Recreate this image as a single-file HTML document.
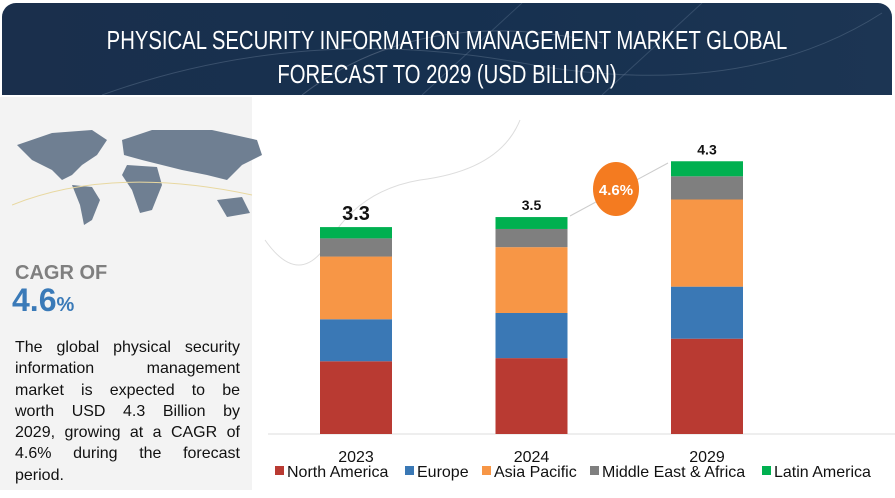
<!DOCTYPE html>
<html><head><meta charset="utf-8">
<style>
body{margin:0;width:895px;height:498px;background:#fff;font-family:"Liberation Sans",sans-serif;overflow:hidden;position:relative}
#hdr{position:absolute;left:2px;top:3px;width:890px;height:92px;border-radius:14px 14px 0 0;background:linear-gradient(90deg,#1a2f4c,#16304f 50%,#1c3553);overflow:hidden}
#hdr .t{position:absolute;left:0;right:0;top:20px;text-align:center;color:#fff;font-size:26px;line-height:34px;font-family:"Liberation Sans",sans-serif;transform:scaleX(0.78);transform-origin:center;white-space:nowrap}
#left{position:absolute;left:0;top:97px;width:252px;height:393px;background:#f3f3f3}
.cagr1{position:absolute;left:15px;top:262px;font-size:20px;font-weight:bold;color:#7f7f7f}
.cagr2{position:absolute;left:12px;top:282px;font-size:32px;font-weight:bold;color:#3a7ab8}
.cagr2 span{font-size:20px}
.desc{position:absolute;left:15px;top:337px;width:225px;font-size:16px;line-height:21.3px;color:#111}
.desc div{text-align:justify;text-align-last:justify;white-space:nowrap;display:flex;justify-content:space-between}
.desc div.last{justify-content:flex-start;gap:6px}
</style></head><body>
<div id="hdr">
<svg width="890" height="92" style="position:absolute;left:0;top:0">
<path d="M100 92 Q300 20 520 60 T880 10" stroke="#5a6f8a" stroke-width="1" fill="none" opacity=".5"/>
<path d="M300 92 Q420 0 600 40" stroke="#6f7f95" fill="none" opacity=".5"/>
<path d="M600 92 L700 0 M420 92 L520 0" stroke="#607590" fill="none" opacity=".4"/>
</svg>
<div class="t">PHYSICAL SECURITY INFORMATION MANAGEMENT MARKET GLOBAL<br>FORECAST TO 2029 (USD BILLION)</div>
</div>
<div id="left"></div>
<svg style="position:absolute;left:12px;top:125px" width="260" height="110">
<g fill="#6f7f92">
<path d="M5 20 L40 8 L80 5 L95 15 L85 30 L70 40 L60 50 L50 55 L40 45 L20 35 Z"/>
<path d="M60 60 L80 62 L88 75 L80 95 L72 100 L68 80 Z"/>
<path d="M110 15 L140 5 L200 5 L245 15 L250 30 L230 40 L215 55 L195 50 L170 45 L150 40 L130 35 L112 30 Z"/>
<path d="M115 40 L145 42 L150 60 L140 85 L128 88 L120 65 L110 50 Z"/>
<path d="M205 75 L230 72 L238 88 L215 92 Z"/>
</g>
<path d="M0 80 Q100 40 240 70" stroke="#e8d8a0" fill="none"/>
</svg>
<div class="cagr1">CAGR OF</div>
<div class="cagr2">4.6<span>%</span></div>
<div class="desc">
<div><span>The</span><span>global</span><span>physical</span><span>security</span></div>
<div><span>information</span><span>management</span></div>
<div><span>market</span><span>is</span><span>expected</span><span>to</span><span>be</span></div>
<div><span>worth</span><span>USD</span><span>4.3</span><span>Billion</span><span>by</span></div>
<div><span>2029,</span><span>growing</span><span>at</span><span>a</span><span>CAGR</span><span>of</span></div>
<div><span>4.6%</span><span>during</span><span>the</span><span>forecast</span></div>
<div class="last"><span>period.</span></div>
</div>
<svg id="chart" width="895" height="498" style="position:absolute;left:0;top:0"></svg>
<script>
const years=["2023","2024","2029"];
const totals=["3.3","3.5","4.3"];
const northAmerica=[1.16,1.21,1.52];
const europe=[0.67,0.72,0.83];
const asiaPacific=[1.0,1.05,1.39];
const middleEast=[0.29,0.29,0.37];
const latinAmerica=[0.18,0.19,0.24];
const seriesNames=["North America","Europe","Asia Pacific","Middle East & Africa","Latin America"];
const colors=["#b93a32","#3a78b5","#f79646","#7f7f7f","#00b050"];
const series=[northAmerica,europe,asiaPacific,middleEast,latinAmerica];
const svg=document.getElementById('chart');const NS="http://www.w3.org/2000/svg";
const base=434,scale=62.7;
const y=v=>base-v*scale;
const xc=i=>356+i*175.5;
function mk(t,a){const e=document.createElementNS(NS,t);for(const k in a)e.setAttribute(k,a[k]);svg.appendChild(e);return e;}
let d=mk('path',{d:"M265 240 Q300 290 330 240 Q360 190 420 180 Q500 170 520 120",stroke:"#ddd",fill:"none"});


let ax=mk('line',{x1:268,x2:895,y1:base,y2:base,stroke:"#ddd","stroke-width":1});


years.forEach((yr,i)=>{
  let acc=0;
  series.forEach((s,j)=>{
    const r=mk('rect',{x:xc(i)-36,width:72,y:y(acc+s[i]),height:s[i]*scale,fill:colors[j]});
    
    
    acc+=s[i];
  });
  const t=mk('text',{x:xc(i),y:y(acc)-7,"text-anchor":"middle","font-size":i==0?20:14,"font-weight":"bold",fill:"#111"});
  t.textContent=totals[i];
  
  
  const l=mk('text',{x:xc(i),y:462,"text-anchor":"middle","font-size":16,fill:"#111"});
  l.textContent=yr;
  
  
});
let ar=mk('line',{x1:570,y1:216,x2:668,y2:163,stroke:"#ccc","stroke-width":1});


let c=mk('ellipse',{cx:616,cy:189,rx:23,ry:27,fill:"#f47b20"});


let ct=mk('text',{x:616,y:195,"text-anchor":"middle","font-size":15,"font-weight":"bold",fill:"#fff"});
ct.textContent="4.6%";


const lx=[275,405,482,590,762];
seriesNames.forEach((n,j)=>{
  const r=mk('rect',{x:lx[j],y:466,width:9,height:9,fill:colors[j]});
  
  
  const t=mk('text',{x:lx[j]+12,y:477,"font-size":16,fill:"#111"});
  t.textContent=n;
  
  
});
</script>
</body></html>
